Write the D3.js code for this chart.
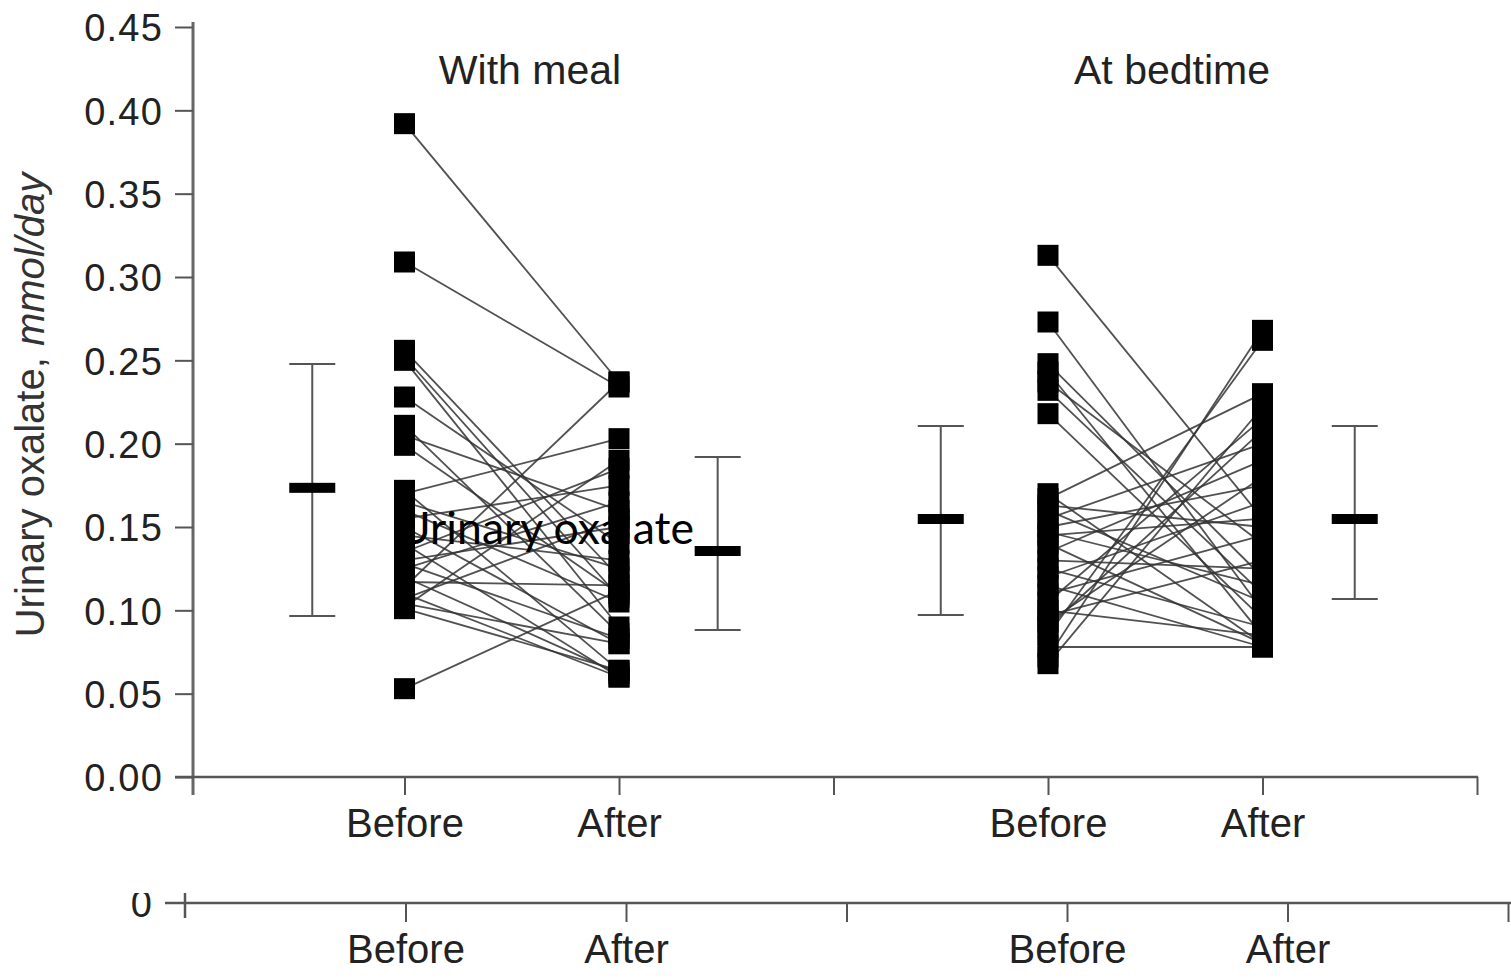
<!DOCTYPE html>
<html><head><meta charset="utf-8">
<script src="https://cdn.jsdelivr.net/npm/d3@7"></script>
<style>body{margin:0;background:#fff}</style>
</head><body>
<svg id="c" width="1511" height="980"></svg>
<script>
// ---- data ----
const yTicks = [0, 0.05, 0.10, 0.15, 0.20, 0.25, 0.30, 0.35, 0.40, 0.45];
const xLabels = ["Before", "After", "Before", "After"];
const panelTitles = ["With meal", "At bedtime"];
const mealBefore = [0.392,0.309,0.256,0.252,0.250,0.228,0.211,0.205,0.199,0.172,0.170,0.165,0.160,0.155,0.150,0.145,0.140,0.135,0.130,0.128,0.125,0.120,0.117,0.114,0.110,0.107,0.104,0.102,0.101,0.053];
const mealAfter  = [0.237,0.234,0.120,0.108,0.090,0.140,0.086,0.160,0.110,0.064,0.203,0.125,0.105,0.175,0.080,0.130,0.060,0.185,0.150,0.083,0.165,0.062,0.115,0.237,0.060,0.155,0.080,0.190,0.064,0.112];
const bedBefore  = [0.313,0.273,0.248,0.243,0.237,0.232,0.218,0.170,0.167,0.163,0.160,0.155,0.150,0.147,0.145,0.140,0.135,0.130,0.125,0.120,0.115,0.110,0.105,0.100,0.097,0.093,0.090,0.085,0.078,0.072,0.068];
const bedAfter   = [0.155,0.100,0.120,0.085,0.140,0.110,0.095,0.080,0.230,0.150,0.105,0.200,0.175,0.115,0.155,0.080,0.190,0.125,0.090,0.165,0.078,0.145,0.215,0.085,0.130,0.180,0.208,0.262,0.078,0.268,0.222];
const groupMeans = [0.1735, 0.1356, 0.1548, 0.1548];
const groupLow   = [0.0966, 0.0882, 0.0972, 0.1068];
const groupHigh  = [0.2478, 0.1920, 0.2106, 0.2106];

// ---- drawing ----
const svg = d3.select("#c");
const font = "'Liberation Sans', Arial, sans-serif";
const y = d3.scaleLinear().domain([0, 0.45]).range([777, 27]);
const x = d3.scaleLinear().domain([0, 6]).range([190, 1477]);
const x2 = d3.scaleLinear().domain([0, 6]).range([185, 1508]);
const meanPos = [0.57, 2.46, 3.5, 5.43];
const axisCol = "#555";
const lab = d => ({1: xLabels[0], 2: xLabels[1], 4: xLabels[2], 5: xLabels[3]})[d] || "";

// y axis
const yAxis = d3.axisLeft(y).tickValues(yTicks).tickFormat(d3.format(".2f")).tickSize(18).tickPadding(12);
const gy = svg.append("g").attr("transform", "translate(193,0)").call(yAxis);
gy.select(".domain").attr("d", "M0,22V795").attr("stroke", "#666").attr("stroke-width", 3);
gy.selectAll(".tick line").attr("stroke", axisCol).attr("stroke-width", 2);
gy.selectAll(".tick text").attr("font-family", font).attr("font-size", 38).attr("letter-spacing", 1.2).attr("fill", "#222").attr("dy", "0.36em");

// x axis main
const xAxis = d3.axisBottom(x).tickValues([1,2,3,4,5,6]).tickFormat(lab).tickSize(18).tickPadding(14);
const gx = svg.append("g").attr("transform", "translate(0,777)").call(xAxis);
gx.select(".domain").attr("d", "M175,0H1478").attr("stroke", axisCol).attr("stroke-width", 2.5);
gx.selectAll(".tick line").attr("stroke", axisCol).attr("stroke-width", 2);
gx.selectAll(".tick text").attr("font-family", font).attr("font-size", 40).attr("fill", "#222");

// second (cropped) axis
const xAxis2 = d3.axisBottom(x2).tickValues([1,2,3,4,5,6]).tickFormat(lab).tickSize(19).tickPadding(13);
const gx2 = svg.append("g").attr("transform", "translate(0,903)").call(xAxis2);
gx2.select(".domain").attr("d", "M165,0H1511").attr("stroke", axisCol).attr("stroke-width", 2.5);
gx2.selectAll(".tick line").attr("stroke", axisCol).attr("stroke-width", 2);
gx2.selectAll(".tick text").attr("font-family", font).attr("font-size", 40).attr("fill", "#222");
svg.append("line").attr("x1", 185).attr("x2", 185).attr("y1", 893).attr("y2", 918).attr("stroke", axisCol).attr("stroke-width", 2.5);
svg.append("clipPath").attr("id", "zclip").append("rect").attr("x", 100).attr("y", 893).attr("width", 80).attr("height", 40);
svg.append("text").attr("clip-path", "url(#zclip)").attr("x", 152).attr("y", 917).attr("text-anchor", "end")
  .attr("font-family", font).attr("font-size", 38).attr("fill", "#222").text("0");

// y title
const yt = svg.append("text").attr("transform", "translate(44,405) rotate(-90)").attr("text-anchor", "middle")
  .attr("font-family", font).attr("font-size", 40).attr("fill", "#333");
yt.append("tspan").text("Urinary oxalate, ");
yt.append("tspan").attr("font-style", "italic").text("mmol/day");

// panel titles
svg.selectAll(".ptitle").data(panelTitles).join("text")
  .attr("x", (d, i) => i === 0 ? 530 : 1172).attr("y", 84).attr("text-anchor", "middle")
  .attr("font-family", font).attr("font-size", 41).attr("fill", "#222").text(d => d);

// paired lines
const groups = [[mealBefore, mealAfter, 1, 2], [bedBefore, bedAfter, 4, 5]];
groups.forEach(([b, a, pb, pa]) => {
  svg.append("g").selectAll("line").data(b).join("line")
    .attr("x1", x(pb)).attr("x2", x(pa))
    .attr("y1", d => y(d)).attr("y2", (d, i) => y(a[i]))
    .attr("stroke", "#333").attr("stroke-width", 1.8).attr("stroke-opacity", 0.85);
});
groups.forEach(([b, a, pb, pa]) => {
  const s = 21;
  svg.append("g").selectAll("rect").data(b.concat(a)).join("rect")
    .attr("x", (d, i) => x(i < b.length ? pb : pa) - s / 2)
    .attr("y", d => y(d) - s / 2).attr("width", s).attr("height", s).attr("fill", "#000");
});

// mean +- SD
const eg = svg.append("g");
groupMeans.forEach((m, i) => {
  const cx = x(meanPos[i]);
  eg.append("line").attr("x1", cx).attr("x2", cx).attr("y1", y(groupHigh[i])).attr("y2", y(groupLow[i])).attr("stroke", "#555").attr("stroke-width", 2);
  [groupHigh[i], groupLow[i]].forEach(v => eg.append("line").attr("x1", cx - 23).attr("x2", cx + 23).attr("y1", y(v)).attr("y2", y(v)).attr("stroke", "#555").attr("stroke-width", 2));
  eg.append("rect").attr("x", cx - 23).attr("y", y(m) - 5).attr("width", 46).attr("height", 10).attr("fill", "#000");
});

// overlay label
svg.append("text").attr("x", 398).attr("y", 544).attr("font-family", "Lato, 'Open Sans', sans-serif")
  .attr("font-size", 45).attr("textLength", 296).attr("lengthAdjust", "spacingAndGlyphs")
  .attr("fill", "#000").text("Urinary oxalate");
</script>
</body></html>
